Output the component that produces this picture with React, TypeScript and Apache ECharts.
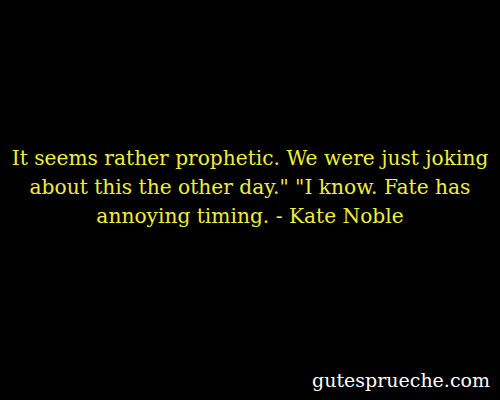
import React, { useEffect, useRef } from "react";
import * as echarts from "echarts";

const quoteLines = [
  "It seems rather prophetic. We were just joking",
  "about this the other day.\" \"I know. Fate has",
  "annoying timing. - Kate Noble",
];
const watermark = "gutesprueche.com";

export default function App() {
  const ref = useRef<HTMLDivElement>(null);
  useEffect(() => {
    const chart = echarts.init(ref.current!, null, { renderer: "svg" });
    const lineY = [158, 187, 216];
    chart.setOption({
      animation: false,
      backgroundColor: "#000000",
      graphic: [
        ...quoteLines.map((t, i) => ({
          type: "text",
          x: 250,
          y: lineY[i],
          style: {
            text: t,
            fill: "#eeee3c",
            font: "20.2px 'DejaVu Serif'",
            align: "center",
            verticalAlign: "middle",
          },
        })),
        {
          type: "text",
          x: 490,
          y: 380,
          style: {
            text: watermark,
            fill: "#ffffff",
            font: "19px 'DejaVu Serif'",
            align: "right",
            verticalAlign: "middle",
          },
        },
      ],
    });
    return () => chart.dispose();
  }, []);
  return (
    <div
      ref={ref}
      style={{ position: "fixed", left: 0, top: 0, width: 500, height: 400, background: "#000" }}
    />
  );
}
